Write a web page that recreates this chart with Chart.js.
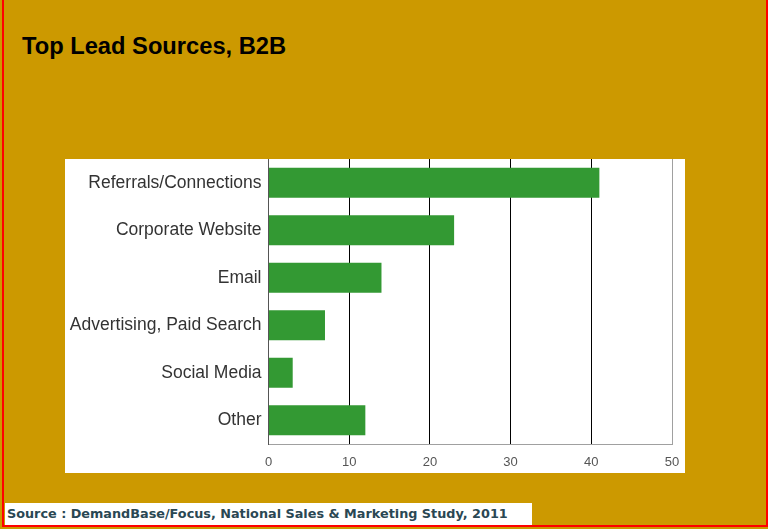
<!DOCTYPE html>
<html>
<head>
<meta charset="utf-8">
<script src="https://cdn.jsdelivr.net/npm/chart.js@4/dist/chart.umd.min.js"></script>
<style>
  html, body { margin: 0; padding: 0; }
  body { width: 768px; height: 529px; background: #CC9900; position: relative; overflow: hidden; font-family: "Liberation Sans", Arial, sans-serif; }
  #frame { position: absolute; left: 2px; top: -5px; width: 762px; height: 530px; border: 2px solid #FF0000; border-top: none; }
  #title { position: absolute; left: 22px; top: 35px; font-size: 23.7px; line-height: 1; font-weight: bold; color: #000; }
  #panel { position: absolute; left: 65px; top: 159px; width: 620px; height: 314px; background: #fff; }
  #source { position: absolute; left: 5px; top: 503px; width: 527px; height: 22px; background: #fff; }
  #source span { position: absolute; left: 2px; top: 5px; font-family: "DejaVu Sans", Verdana, sans-serif; font-size: 12.8px; line-height: 1; font-weight: bold; color: #2a4753; white-space: nowrap; }
</style>
</head>
<body>
<div id="frame"></div>
<div id="title">Top Lead Sources, B2B</div>
<div id="panel"><canvas id="leadChart"></canvas></div>
<div id="source"><span>Source : DemandBase/Focus, National Sales &amp; Marketing Study, 2011</span></div>
<script>
// lead source shares, B2B
const sources = ['Referrals/Connections', 'Corporate Website', 'Email', 'Advertising, Paid Search', 'Social Media', 'Other'];
const shares = [41, 23, 14, 7, 3, 12];
const xTicks = [0, 10, 20, 30, 40, 50];

const ctx = document.getElementById('leadChart');

new Chart(ctx, {
  type: 'bar',
  data: {
    labels: sources,
    datasets: [{
      data: shares,
      backgroundColor: '#339933',
      borderWidth: 0,
      categoryPercentage: 1,
      barPercentage: 0.63
    }]
  },
  options: {
    indexAxis: 'y',
    responsive: true,
    maintainAspectRatio: false,
    devicePixelRatio: 1,
    animation: false,
    layout: { padding: { top: 0, right: 13, bottom: 0, left: 0 } },
    plugins: {
      legend: { display: false },
      tooltip: { enabled: false }
    },
    scales: {
      x: {
        min: xTicks[0],
        max: xTicks[xTicks.length - 1],
        afterBuildTicks: function(scale) {
          scale.ticks = xTicks.map(v => ({ value: v }));
        },
        afterFit: function(scale) {
          scale.height = 29;
          scale.paddingLeft = 0;
          scale.paddingRight = 0;
        },
        grid: {
          drawTicks: false,
          lineWidth: 1,
          color: function(c) {
            if (c.tick && c.tick.value === 50) return '#a0a0a0';
            if (c.tick && c.tick.value === 0) return '#555';
            return '#000';
          }
        },
        border: { display: true, color: '#a0a0a0', width: 1 },
        ticks: {
          padding: 11,
          color: '#555',
          font: { family: 'Liberation Sans, Arial', size: 13 }
        }
      },
      y: {
        afterFit: function(scale) {
          scale.width = 203.5;
          scale.paddingTop = 0;
          scale.paddingBottom = 0;
        },
        grid: { display: false, drawTicks: false },
        border: { display: true, color: '#555', width: 1 },
        ticks: {
          padding: 7,
          color: '#333',
          font: { family: 'Liberation Sans, Arial', size: 17.5 }
        }
      }
    }
  }
});
</script>
</body>
</html>
